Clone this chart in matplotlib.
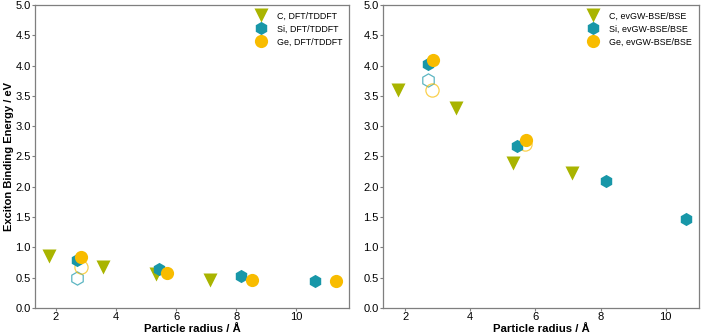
import matplotlib
matplotlib.use("Agg")
import matplotlib.pyplot as plt

plt.rcParams['font.family'] = ['Liberation Sans', 'DejaVu Sans']

# particle radii (Å)
c_r = [1.78, 3.55, 5.32, 7.12]
si_r = [2.71, 5.44, 8.17, 10.61]
ge_r = [2.83, 5.69, 8.54, 11.33]

# DFT/TDDFT binding energies (eV)
c_dft = [0.86, 0.68, 0.56, 0.47]
si_dft = [0.80, 0.64, 0.53, 0.45]
ge_dft = [0.84, 0.57, 0.47, 0.44]
si_dft_open = [0.49]
ge_dft_open = [0.67]

# evGW-BSE/BSE binding energies (eV)
c_gw = [3.60, 3.30, 2.40, 2.23]
si_gw = [4.03, 2.68, 2.10, 1.47]
ge_gw_r = [2.84, 5.70]
ge_gw = [4.09, 2.77]
si_gw_open = [3.76]
ge_gw_open_r = [2.82, 5.69]
ge_gw_open = [3.60, 2.71]

c_col = '#a9b400'
si_col = '#1897a8'
ge_col = '#f8bc00'
grey = '#7f7f7f'

fig = plt.figure(figsize=(7.02, 3.36), dpi=100)
ax1 = fig.add_axes([0.0499, 0.0833, 0.447, 0.902])
ax2 = fig.add_axes([0.5456, 0.0833, 0.450, 0.902])

ms = 9.5


def panel(ax, si_open, ge_open_r, ge_open, c_y, si_x, si_y, ge_x, ge_y, tag):
    ax.plot([si_r[0]] * len(si_open), si_open, 'h', ms=ms, mfc='none',
            mec=si_col, mew=0.9, alpha=0.7, ls='none')
    ax.plot(ge_open_r, ge_open, 'o', ms=ms, mfc='none',
            mec=ge_col, mew=0.9, alpha=0.7, ls='none')
    ax.plot(c_r, c_y, 'v', ms=ms, color=c_col, mec='none', ls='none',
            label='C, ' + tag)
    ax.plot(si_x, si_y, 'h', ms=ms, color=si_col, mec='none', ls='none',
            label='Si, ' + tag)
    ax.plot(ge_x, ge_y, 'o', ms=ms, color=ge_col, mec='none', ls='none',
            label='Ge, ' + tag)
    ax.set_ylim(0, 5)
    ax.set_yticks([0, 0.5, 1, 1.5, 2, 2.5, 3, 3.5, 4, 4.5, 5])
    ax.set_xticks([2, 4, 6, 8, 10])
    ax.set_xlabel('Particle radius / Å', fontsize=8.2, fontweight='bold',
                  labelpad=1)
    ax.tick_params(labelsize=8, length=2, width=0.8, color=grey, pad=1)
    for s in ax.spines.values():
        s.set_color(grey)
        s.set_linewidth(0.9)
    ax.legend(loc='upper right', frameon=False, fontsize=6.4,
              handletextpad=1.2, handlelength=1.2, labelspacing=0.45,
              borderaxespad=0.35)


panel(ax1, si_dft_open, [ge_r[0]], ge_dft_open, c_dft, si_r, si_dft,
      ge_r, ge_dft, 'DFT/TDDFT')
panel(ax2, si_gw_open, ge_gw_open_r, ge_gw_open, c_gw, si_r, si_gw,
      ge_gw_r, ge_gw, 'evGW-BSE/BSE')
ax1.set_xlim(1.30, 11.75)
ax2.set_xlim(1.32, 11.02)
ax1.set_ylabel('Exciton Binding Energy / eV', fontsize=8, fontweight='bold',
               labelpad=1)

fig.savefig('out.png', dpi=100)
